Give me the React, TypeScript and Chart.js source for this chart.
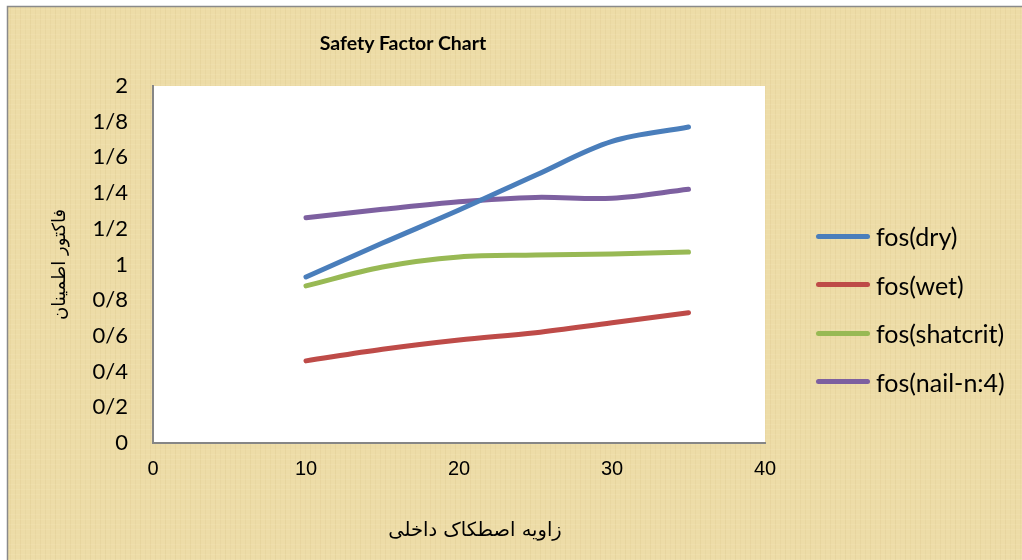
import React, { useEffect, useRef } from "react";
import { Chart, registerables } from "chart.js";

Chart.register(...registerables);

const xValues = [10, 15, 20, 25, 30, 35];
const fosDry = [0.93, 1.12, 1.305, 1.5, 1.69, 1.77];
const fosWet = [0.46, 0.525, 0.577, 0.618, 0.674, 0.73];
const fosShatcrit = [0.88, 0.986, 1.042, 1.053, 1.059, 1.07];
const fosNail = [1.262, 1.309, 1.352, 1.376, 1.371, 1.421];
const seriesNames = ["fos(dry)", "fos(wet)", "fos(shatcrit)", "fos(nail-n:4)"];
const seriesColors = ["#4A7EBB", "#BE4B48", "#98B954", "#7D60A0"];
const yTickLabels = ["0", "0/2", "0/4", "0/6", "0/8", "1", "1/2", "1/4", "1/6", "1/8", "2"];
const xTickLabels = ["0", "10", "20", "30", "40"];
const chartTitle = "Safety Factor Chart";
const xAxisTitle = "زاویه اصطکاک داخلی";
const yAxisTitle = "فاکتور اطمینان";

const seriesValues = [fosDry, fosWet, fosShatcrit, fosNail];

const backgroundPlugin = {
  id: "bgPlugin",
  beforeDraw(chart: any) {
    const { ctx, width, height, chartArea } = chart;
    ctx.save();
    ctx.fillStyle = "#ffffff";
    ctx.fillRect(0, 0, width, height);
    ctx.fillStyle = "#EDDCA7";
    ctx.fillRect(7, 6, width - 7, height - 6);
    // faint woven texture
    ctx.lineWidth = 1;
    for (let x = 10; x < width; x += 5) {
      const a = 0.04 + 0.04 * Math.abs(Math.sin(x * 0.37));
      ctx.strokeStyle = `rgba(170,140,70,${a})`;
      ctx.beginPath();
      ctx.moveTo(x + 0.5, 7);
      ctx.lineTo(x + 0.5, height);
      ctx.stroke();
    }
    for (let y = 9; y < height; y += 5) {
      const a = 0.03 + 0.04 * Math.abs(Math.sin(y * 0.53));
      ctx.strokeStyle = `rgba(255,245,215,${a + 0.05})`;
      ctx.beginPath();
      ctx.moveTo(8, y + 0.5);
      ctx.lineTo(width, y + 0.5);
      ctx.stroke();
    }
    ctx.strokeStyle = "#8a8a8a";
    ctx.lineWidth = 1.5;
    ctx.beginPath();
    ctx.moveTo(7.5, height);
    ctx.lineTo(7.5, 6.5);
    ctx.lineTo(width, 6.5);
    ctx.stroke();
    ctx.fillStyle = "#ffffff";
    ctx.fillRect(chartArea.left, chartArea.top, chartArea.right - chartArea.left, chartArea.bottom - chartArea.top);
    ctx.restore();
  },
};

export default function App() {
  const canvasRef = useRef<HTMLCanvasElement | null>(null);

  useEffect(() => {
    if (!canvasRef.current) return;
    const chart = new Chart(canvasRef.current, {
      type: "line",
      data: {
        datasets: seriesNames.map((name, i) => ({
          label: name,
          data: xValues.map((x, j) => ({ x, y: seriesValues[i][j] })),
          borderColor: seriesColors[i],
          backgroundColor: seriesColors[i],
          borderWidth: 5,
          borderCapStyle: "round" as const,
          borderJoinStyle: "round" as const,
          pointRadius: 0,
          pointHoverRadius: 0,
          tension: 0.35,
          fill: false,
        })),
      },
      options: {
        animation: false,
        responsive: false,
        devicePixelRatio: 1,
        layout: { padding: { left: 0, right: 257, top: 86, bottom: 0 } },
        plugins: {
          legend: { display: false },
          title: { display: false },
          tooltip: { enabled: false },
        },
        scales: {
          x: {
            type: "linear",
            min: 0,
            max: 40,
            ticks: {
              stepSize: 10,
              padding: 14,
              color: "#000",
              font: { family: '"Liberation Sans", Arial, sans-serif', size: 20 },
              callback: (_v: any, i: number) => xTickLabels[i],
            },
            grid: { display: false, drawTicks: false },
            border: { display: true, color: "#868686", width: 2 },
            afterFit: (s: any) => {
              s.height = 117;
            },
          },
          y: {
            min: 0,
            max: 2,
            ticks: {
              stepSize: 0.2,
              padding: 25,
              color: "#000",
              font: { family: "Lato, sans-serif", size: 22 },
              callback: (_v: any, i: number) => yTickLabels[i],
            },
            grid: { display: false, drawTicks: false },
            border: { display: true, color: "#868686", width: 2 },
            title: {
              display: true,
              text: yAxisTitle,
              color: "#000",
              font: { family: '"DejaVu Sans", sans-serif', size: 18 },
              padding: { top: 50, bottom: 0 },
            },
            afterFit: (s: any) => {
              s.width = 153;
            },
          },
        },
      },
      plugins: [backgroundPlugin],
    });
    return () => chart.destroy();
  }, []);

  return (
    <div style={{ position: "fixed", left: 0, top: 0, width: 1022, height: 560, overflow: "hidden" }}>
      <canvas ref={canvasRef} width={1022} height={560} style={{ position: "absolute", left: 0, top: 0, width: 1022, height: 560 }} />
      <div
        style={{
          position: "absolute",
          left: 253,
          top: 31,
          width: 300,
          textAlign: "center",
          fontFamily: "Lato, sans-serif",
          fontWeight: 700,
          fontSize: 19.5,
          lineHeight: "24px",
          color: "#000",
        }}
      >
        {chartTitle}
      </div>
      <div
        dir="rtl"
        style={{
          position: "absolute",
          left: 325,
          top: 515,
          width: 300,
          textAlign: "center",
          fontFamily: '"DejaVu Sans", sans-serif',
          fontSize: 19.5,
          lineHeight: "30px",
          color: "#000",
        }}
      >
        {xAxisTitle}
      </div>
      <div style={{ position: "absolute", left: 816, top: 211.75 }}>
        {seriesNames.map((name, i) => (
          <div key={name} style={{ display: "flex", alignItems: "center", height: 48.5 }}>
            <span
              style={{
                display: "inline-block",
                width: 54,
                height: 5,
                borderRadius: 3,
                background: seriesColors[i],
                marginRight: 6,
              }}
            />
            <span style={{ fontFamily: "Lato, sans-serif", fontSize: 25, color: "#000", whiteSpace: "nowrap" }}>{name}</span>
          </div>
        ))}
      </div>
    </div>
  );
}
